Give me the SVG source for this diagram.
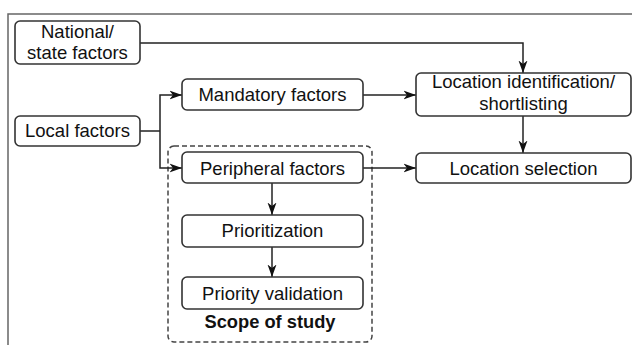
<svg xmlns="http://www.w3.org/2000/svg" width="632" height="345" viewBox="0 0 632 345">
<defs>
<style>
.box{fill:#fff;stroke:#333;stroke-width:1.6}
.t{font-family:"Liberation Sans",Arial,sans-serif;font-size:18.5px;fill:#111;text-anchor:middle}
.b{font-weight:bold;font-size:18.3px}
.c{fill:none;stroke:#222;stroke-width:1.5}
.frame{fill:none;stroke:#666;stroke-width:1.5}
.dash{fill:none;stroke:#444;stroke-width:1.5;stroke-dasharray:5,3}
</style>
<marker id="ah" markerUnits="userSpaceOnUse" markerWidth="14" markerHeight="11" refX="12.5" refY="5" orient="auto">
<path d="M0,0.5 L12.5,5 L0,9.5 L3.5,5 z" fill="#111"/>
</marker>
</defs>
<rect width="632" height="345" fill="#fff"/>
<path class="frame" d="M8,345 V14 H632"/>
<g id="scope">
<rect class="dash" x="168" y="146" width="204" height="196" rx="6"/>
<text class="t b" x="270" y="328">Scope of study</text>
</g>
<g id="connectors">
<path class="c" d="M140,43 H523 V73" marker-end="url(#ah)"/>
<path class="c" d="M140,131 H160"/>
<path class="c" d="M160,131 V95 H182" marker-end="url(#ah)"/>
<path class="c" d="M160,131 V168 H182" marker-end="url(#ah)"/>
<path class="c" d="M363,95 H416" marker-end="url(#ah)"/>
<path class="c" d="M523,116 V153" marker-end="url(#ah)"/>
<path class="c" d="M363,168 H416" marker-end="url(#ah)"/>
<path class="c" d="M272,183 V215" marker-end="url(#ah)"/>
<path class="c" d="M272,247 V277" marker-end="url(#ah)"/>
</g>
<g id="national">
<rect class="box" x="15" y="21" width="125" height="43" rx="5"/>
<text class="t" x="77.5" y="38">National/</text>
<text class="t" x="77.5" y="59">state factors</text>
</g>
<g id="local">
<rect class="box" x="15" y="116" width="125" height="30" rx="5"/>
<text class="t" x="77.5" y="137">Local factors</text>
</g>
<g id="mandatory">
<rect class="box" x="182" y="79" width="181" height="31" rx="5"/>
<text class="t" x="272.5" y="101">Mandatory factors</text>
</g>
<g id="peripheral">
<rect class="box" x="182" y="152" width="181" height="31" rx="5"/>
<text class="t" x="272.5" y="175">Peripheral factors</text>
</g>
<g id="prioritization">
<rect class="box" x="182" y="215" width="181" height="32" rx="5"/>
<text class="t" x="272.5" y="237">Prioritization</text>
</g>
<g id="validation">
<rect class="box" x="182" y="277" width="181" height="32" rx="5"/>
<text class="t" x="272.5" y="299.5">Priority validation</text>
</g>
<g id="locid">
<rect class="box" x="416" y="73" width="215" height="43" rx="5"/>
<text class="t" x="523.5" y="88">Location identification/</text>
<text class="t" x="523.5" y="110">shortlisting</text>
</g>
<g id="locsel">
<rect class="box" x="416" y="153" width="215" height="30" rx="5"/>
<text class="t" x="523.5" y="175">Location selection</text>
</g>
</svg>
